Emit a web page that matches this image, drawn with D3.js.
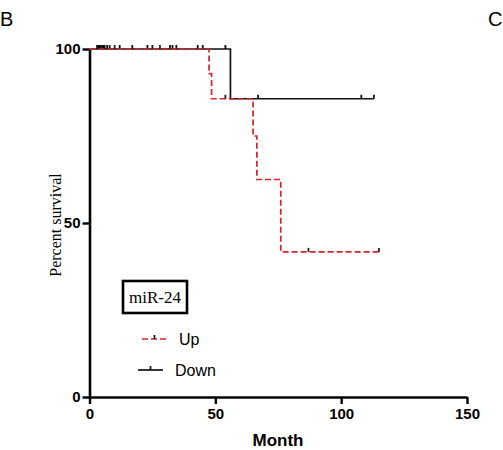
<!doctype html>
<html lang="en">
    <head>
        <meta charset="utf-8">
        <title>miR-24 survival</title>
        <script src="https://cdn.jsdelivr.net/npm/d3@7"></script>
        <style>
            body { margin: 0; background: #fff; }
        </style>
    </head>
    <body>
        <script>
            // Kaplan-Meier steps (month, percent after drop)
            var upEvents = [47.5, 48.5, 65, 66.5, 76];
            var upSurvival = [92.9, 85.7, 75.0, 62.5, 41.7];
            var upCensored = [10, 28, 54, 87, 115];
            var upLast = 115;

            var downEvents = [56];
            var downSurvival = [85.7];
            var downCensored = [3, 3.5, 4, 4.5, 5, 5.5, 6, 7, 8, 12, 17, 23, 25, 32, 33, 34.5, 43, 45, 54, 67, 108, 113];
            var downLast = 113;

            var xTicks = [0, 50, 100, 150];
            var yTicks = [0, 50, 100];

            var svgW = 503, svgH = 450;
            var red = "#d2252b";

            var x = d3.scaleLinear().domain([0, 150]).range([89.5, 467]);
            var y = d3.scaleLinear().domain([0, 100]).range([397, 49]);

            var svg = d3.select("body").append("svg")
                        .attr("width", svgW)
                        .attr("height", svgH);

            // step path from events
            function kmPoints(events, surv, last) {
                var pts = [[0, 100]];
                var s = 100;
                events.forEach(function(t, i) {
                    pts.push([t, s]);
                    s = surv[i];
                    pts.push([t, s]);
                });
                pts.push([last, s]);
                return pts;
            }
            function survAt(events, surv, t) {
                var s = 100;
                events.forEach(function(e, i) { if (e <= t) s = surv[i]; });
                return s;
            }
            var line = d3.line().x(d => x(d[0])).y(d => y(d[1]));

            // axes
            var xAxis = svg.append("g")
                .attr("transform", "translate(0," + y(0) + ")")
                .call(d3.axisBottom(x).tickValues(xTicks).tickSize(7).tickSizeOuter(0).tickPadding(4));
            var yAxis = svg.append("g")
                .attr("transform", "translate(" + x(0) + ",0)")
                .call(d3.axisLeft(y).tickValues(yTicks).tickSize(7).tickSizeOuter(0).tickPadding(2));

            [xAxis, yAxis].forEach(function(g) {
                g.select(".domain").attr("stroke", "#000").attr("stroke-width", 2.6);
                g.selectAll(".tick line").attr("stroke", "#000").attr("stroke-width", 2.4);
                g.selectAll(".tick text")
                 .attr("fill", "#000")
                 .attr("font-family", "Liberation Sans, Arial, sans-serif")
                 .attr("font-weight", "bold")
                 .attr("font-size", "15px");
            });

            // Down (black solid)
            svg.append("path")
               .datum(kmPoints(downEvents, downSurvival, downLast))
               .attr("d", line)
               .attr("fill", "none")
               .attr("stroke", "#111")
               .attr("stroke-width", 1.7);
            svg.selectAll(".cd")
               .data(downCensored)
               .enter()
               .append("line")
               .attr("x1", d => x(d))
               .attr("x2", d => x(d))
               .attr("y1", d => y(survAt(downEvents, downSurvival, d)))
               .attr("y2", d => y(survAt(downEvents, downSurvival, d)) - 4)
               .attr("stroke", "#111")
               .attr("stroke-width", 1.8);

            // Up (red dashed)
            svg.append("path")
               .datum(kmPoints(upEvents, upSurvival, upLast))
               .attr("d", line)
               .attr("fill", "none")
               .attr("stroke", red)
               .attr("stroke-width", 1.7)
               .attr("stroke-dasharray", "6,3");
            svg.selectAll(".cu")
               .data(upCensored)
               .enter()
               .append("line")
               .attr("x1", d => x(d))
               .attr("x2", d => x(d))
               .attr("y1", d => y(survAt(upEvents, upSurvival, d)))
               .attr("y2", d => y(survAt(upEvents, upSurvival, d)) - 4)
               .attr("stroke", "#222")
               .attr("stroke-width", 1.8);

            // axis titles
            svg.append("text")
               .text("Month")
               .attr("x", 278)
               .attr("y", 446)
               .attr("text-anchor", "middle")
               .attr("font-family", "Liberation Sans, Arial, sans-serif")
               .attr("font-weight", "bold")
               .attr("font-size", "17px");
            svg.append("text")
               .text("Percent survival")
               .attr("transform", "translate(61,225) rotate(-90)")
               .attr("text-anchor", "middle")
               .attr("font-family", "Liberation Serif, Times New Roman, serif")
               .attr("font-size", "16px");

            // panel letters
            svg.append("text").text("B")
               .attr("x", 0).attr("y", 26)
               .attr("font-family", "Liberation Sans, Arial, sans-serif")
               .attr("font-size", "20px");
            svg.append("text").text("C")
               .attr("x", 488).attr("y", 26)
               .attr("font-family", "Liberation Sans, Arial, sans-serif")
               .attr("font-size", "20px");

            // legend
            svg.append("rect")
               .attr("x", 123).attr("y", 281)
               .attr("width", 64).attr("height", 32)
               .attr("fill", "none")
               .attr("stroke", "#000")
               .attr("stroke-width", 2.6);
            svg.append("text").text("miR-24")
               .attr("x", 155).attr("y", 303)
               .attr("text-anchor", "middle")
               .attr("font-family", "Liberation Serif, Times New Roman, serif")
               .attr("font-size", "17px");

            var legend = [
                {name: "Up", color: red, dash: "6,3", x0: 142, y: 339},
                {name: "Down", color: "#111", dash: null, x0: 138, y: 370}
            ];
            var lg = svg.selectAll(".lg")
                        .data(legend)
                        .enter()
                        .append("g");
            lg.append("line")
              .attr("x1", d => d.x0)
              .attr("x2", d => d.x0 + 25)
              .attr("y1", d => d.y)
              .attr("y2", d => d.y)
              .attr("stroke", d => d.color)
              .attr("stroke-width", 1.7)
              .attr("stroke-dasharray", d => d.dash);
            lg.append("line")
              .attr("x1", d => d.x0 + 12.5)
              .attr("x2", d => d.x0 + 12.5)
              .attr("y1", d => d.y)
              .attr("y2", d => d.y - 4)
              .attr("stroke", "#111")
              .attr("stroke-width", 1.7);
            lg.append("text")
              .text(d => d.name)
              .attr("x", d => d.x0 + 37)
              .attr("y", d => d.y + 6)
              .attr("font-family", "Liberation Sans, Arial, sans-serif")
              .attr("font-size", "16px");
        </script>
    </body>
</html>
